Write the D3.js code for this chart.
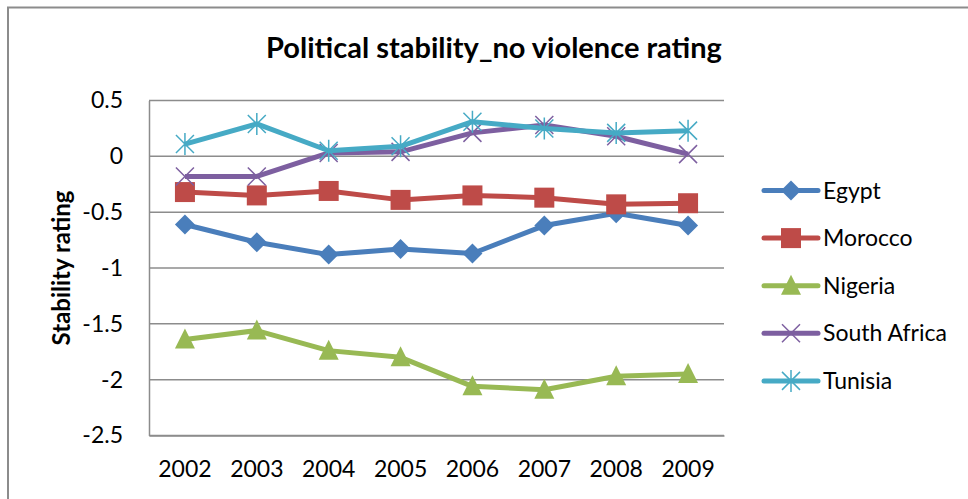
<!DOCTYPE html>
<html>
<head>
<meta charset="utf-8">
<title>Political stability</title>
<style>
  body { margin: 0; background: #fff; }
  text { font-family: Lato, "Open Sans", sans-serif; fill: #000; }
</style>
<script src="https://d3js.org/d3.v7.min.js"></script>
</head>
<body>
<svg id="chart" width="968" height="499"></svg>
<script>
// data
var years = ["2002", "2003", "2004", "2005", "2006", "2007", "2008", "2009"];
var countries = ["Egypt", "Morocco", "Nigeria", "South Africa", "Tunisia"];
var egypt = [-0.61, -0.77, -0.88, -0.83, -0.87, -0.62, -0.51, -0.62];
var morocco = [-0.32, -0.35, -0.31, -0.39, -0.35, -0.37, -0.43, -0.42];
var nigeria = [-1.64, -1.56, -1.74, -1.80, -2.06, -2.09, -1.97, -1.95];
var southAfrica = [-0.18, -0.18, 0.03, 0.04, 0.21, 0.28, 0.18, 0.02];
var tunisia = [0.11, 0.29, 0.05, 0.09, 0.31, 0.25, 0.21, 0.23];
var yTicks = [0.5, 0, -0.5, -1, -1.5, -2, -2.5];

var colors = ["#4A7EBB", "#BE4B48", "#98B954", "#7D5FA0", "#46AAC5"];
var symbols = ["diamond", "square", "triangle", "x", "star"];
var series = [egypt, morocco, nigeria, southAfrica, tunisia];

var svg = d3.select("#chart");

// outer chart frame
svg.append("rect")
  .attr("x", 8).attr("y", 7.5)
  .attr("width", 1000).attr("height", 600)
  .attr("fill", "none").attr("stroke", "#8c8c8c").attr("stroke-width", 2);

var plotL = 149, plotR = 724, plotT = 100.5, plotB = 435.5;

var x = d3.scaleBand().domain(years).range([plotL, plotR]);
var y = d3.scaleLinear().domain([-2.5, 0.5]).range([plotB, plotT]);

// gridlines
svg.append("g").selectAll("line")
  .data(yTicks)
  .enter().append("line")
  .attr("x1", plotL).attr("x2", plotR)
  .attr("y1", d => y(d)).attr("y2", d => y(d))
  .attr("stroke", "#8c8c8c").attr("stroke-width", 1.5);

// axes
var yAxis = svg.append("g")
  .attr("transform", "translate(" + plotL + ",0)")
  .call(d3.axisLeft(y).tickValues(yTicks).tickSize(0).tickPadding(26).tickFormat(d => String(d)));
yAxis.select(".domain").attr("stroke", "#8c8c8c").attr("stroke-width", 1.5);
yAxis.selectAll("text").attr("font-size", 23).style("font-family", "Lato, sans-serif");

var xAxis = svg.append("g")
  .attr("transform", "translate(0," + plotB + ")")
  .call(d3.axisBottom(x).tickSize(0).tickPadding(25));
xAxis.select(".domain").attr("stroke", "#8c8c8c").attr("stroke-width", 1.5);
xAxis.selectAll("text").attr("font-size", 23).style("font-family", "Lato, sans-serif");

// title
svg.append("text")
  .attr("x", 494).attr("y", 58)
  .attr("text-anchor", "middle")
  .attr("font-size", 29).attr("font-weight", "bold")
  .text("Political stability_no violence rating");

svg.append("text")
  .attr("transform", "translate(70,268) rotate(-90)")
  .attr("text-anchor", "middle")
  .attr("font-size", 24).attr("font-weight", "bold")
  .text("Stability rating");

function marker(g, kind, color) {
  if (kind == "diamond") {
    g.append("path").attr("d", "M0,-10L10,0L0,10L-10,0Z").attr("fill", color);
  } else if (kind == "square") {
    g.append("rect").attr("x", -10).attr("y", -10).attr("width", 20).attr("height", 20).attr("fill", color);
  } else if (kind == "triangle") {
    g.append("path").attr("d", "M0,-11L10,9L-10,9Z").attr("fill", color);
  } else if (kind == "x") {
    g.append("path").attr("d", "M-9,-9L9,9M-9,9L9,-9").attr("stroke", color).attr("stroke-width", 1.5);
  } else {
    g.append("path").attr("d", "M-9,-9L9,9M-9,9L9,-9M0,-11L0,11").attr("stroke", color).attr("stroke-width", 1.5);
  }
}

var line = d3.line()
  .x((d, i) => x(years[i]) + x.bandwidth() / 2)
  .y(d => y(d));

series.forEach(function(vals, k) {
  svg.append("path")
    .attr("d", line(vals))
    .attr("fill", "none")
    .attr("stroke", colors[k])
    .attr("stroke-width", 5)
    .attr("stroke-linejoin", "round");
  vals.forEach(function(v, i) {
    var g = svg.append("g")
      .attr("transform", "translate(" + (x(years[i]) + x.bandwidth() / 2) + "," + y(v) + ")");
    marker(g, symbols[k], colors[k]);
  });
});

// legend
countries.forEach(function(name, k) {
  var ly = 190.5 + k * 47.6;
  svg.append("line")
    .attr("x1", 764).attr("x2", 818).attr("y1", ly).attr("y2", ly)
    .attr("stroke", colors[k]).attr("stroke-width", 5).attr("stroke-linecap", "round");
  var g = svg.append("g").attr("transform", "translate(791," + ly + ")");
  marker(g, symbols[k], colors[k]);
  svg.append("text")
    .attr("x", 823).attr("y", ly + 8)
    .attr("font-size", 23)
    .text(name);
});
</script>
</body>
</html>
